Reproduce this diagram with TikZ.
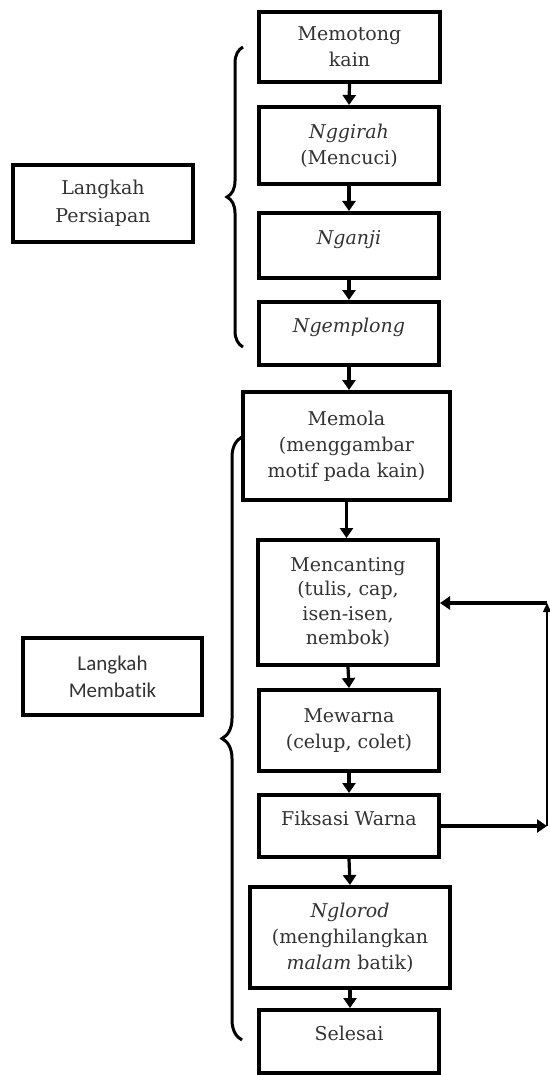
\documentclass[tikz,border=0pt]{standalone}
\usepackage{fontspec}
\setmainfont{DejaVu Serif}
\newfontfamily\calfont[Ligatures=NoCommon]{Carlito}
\usetikzlibrary{arrows.meta,decorations.pathreplacing}

\begin{document}
\begin{tikzpicture}[x=1pt,y=-1pt]
        \useasboundingbox[fill=white] (0,0) rectangle (549,1075);

        \begin{scope}[every node/.style={rectangle,draw,line width=4pt,align=center,inner sep=0pt,
            text=black!80,font=\fontsize{19}{26}\selectfont}]
          \node[minimum width=181pt,minimum height=70pt]  (1)  at (349.5,47)   {Memotong\\kain};
          \node[minimum width=180pt,minimum height=77pt]  (2)  at (349,145.5)  {\textit{Nggirah}\\(Mencuci)};
          \node[minimum width=180pt,minimum height=65pt,text depth=16pt]  (3)  at (349,245.5)  {\textit{Nganji}};
          \node[minimum width=180pt,minimum height=63pt,text depth=16pt]  (4)  at (349,333.5)  {\textit{Ngemplong}};
          \node[minimum width=207pt,minimum height=108pt] (5)  at (346.5,446)  {Memola\\(menggambar\\motif pada kain)};
          \node[minimum width=180pt,minimum height=125pt,font=\fontsize{19}{24.5}\selectfont]
                                                          (6)  at (348,602.5)  {Mencanting\\(tulis, cap,\\isen-isen,\\nembok)};
          \node[minimum width=180pt,minimum height=81pt]  (7)  at (349,730.5)  {Mewarna\\(celup, colet)};
          \node[minimum width=180pt,minimum height=62pt,text depth=16pt]  (8)  at (349,826)    {Fiksasi Warna};
          \node[minimum width=200pt,minimum height=101pt] (9)  at (350,937.5)  {\textit{Nglorod}\\(menghilangkan\\\textit{malam} batik)};
          \node[minimum width=180pt,minimum height=63pt,text depth=16pt]  (10) at (349,1041.5) {Selesai};
          \node[minimum width=180pt,minimum height=77pt,font=\fontsize{19}{28}\selectfont]
                                                          (11) at (103,203.5)  {Langkah\\Persiapan};
          \node[minimum width=179pt,minimum height=77pt,font=\calfont\fontsize{21}{27}\selectfont]
                                                          (12) at (112.5,676.5) {Langkah\\Membatik};
        \end{scope}

        \coordinate (r1) at (547,826);
        \coordinate (r2) at (547,603);

        \begin{scope}[every edge/.style={draw,line width=3.2pt,-{Triangle[width=13pt,length=10pt]}}]
          \path (1.south) edge (2.north);
          \path (2.south) edge (3.north);
          \path (3.south) edge (4.north);
          \path (4.south) edge (4.south |- 5.north);
          \path (5.south) edge (5.south |- 6.north);
          \path (6.south) edge (7.north);
          \path (7.south) edge (8.north);
          \path (8.south) edge (9.north);
          \path (9.south) edge (9.south |- 10.north);
          \path (8)  edge (r1);
          \path (r1) edge[line width=1.2pt,-{Triangle[width=8pt,length=9pt]}] (r2);
          \path (r2) edge (r2 -| 6.east);
        \end{scope}

        % kurung kurawal
        \coordinate (ba) at (243,347);
        \coordinate (ta) at (243,47);
        \coordinate (bb) at (242,1040);
        \coordinate (tb) at (242,437);
        \draw[line width=3pt,decorate,decoration={brace,amplitude=16pt}] (ba) -- (ta);
        \draw[line width=3pt,decorate,decoration={brace,amplitude=20pt}] (bb) -- (tb);

      \end{tikzpicture}
\end{document}
